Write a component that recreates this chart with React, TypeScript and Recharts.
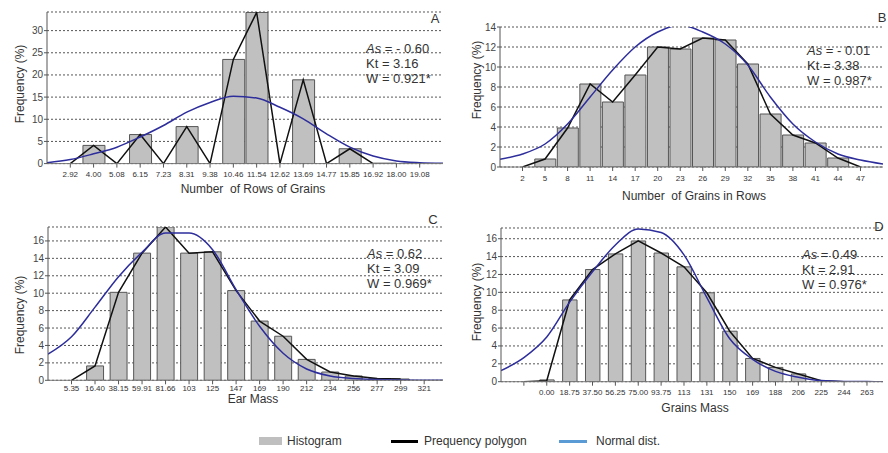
import { Bar, CartesianGrid, ComposedChart, Line, XAxis, YAxis } from "recharts";

// A - Number of Rows of Grains
const rowsLabels = ["2.92", "4.00", "5.08", "6.15", "7.23", "8.31", "9.38", "10.46", "11.54", "12.62", "13.69", "14.77", "15.85", "16.92", "18.00", "19.08"];
const rowsHist = [0, 4.1, 0, 6.55, 0, 8.35, 0, 23.5, 34.1, 0, 18.9, 0, 3.35, 0, 0, 0];
const rowsPoly = [0, 4.1, 0, 6.55, 0, 8.35, 0, 23.5, 34.1, 0, 18.9, 0, 3.35, 0, 0, null];
// normal curve: left edge, one value per label, right edge
const rowsNormal = [0.2, 0.9, 2.2, 3.7, 6.0, 8.6, 11.6, 13.8, 15.2, 14.8, 12.7, 10.1, 6.7, 3.7, 1.7, 0.6, 0.2, 0.05];

// B - Number of Grains in Rows
const grainsLabels = ["2", "5", "8", "11", "14", "17", "20", "23", "26", "29", "32", "35", "38", "41", "44", "47"];
const grainsHist = [0, 0.8, 3.9, 8.3, 6.5, 9.2, 12.0, 11.8, 12.9, 12.7, 10.3, 5.3, 3.2, 2.4, 0.9, 0];
const grainsPoly = [0, 0.8, 3.9, 8.3, 6.5, 9.2, 12.0, 11.8, 12.9, 12.7, 10.3, 5.3, 3.2, 2.4, 0.9, 0];
const grainsNormal = [0.77, 1.3, 2.3, 4.3, 7.0, 9.7, 12.0, 13.5, 14.2, 13.5, 12.3, 10.2, 7.0, 4.3, 2.5, 1.3, 0.7, 0.3];

// C - Ear Mass
const earLabels = ["5.35", "16.40", "38.15", "59.91", "81.66", "103", "125", "147", "169", "190", "212", "234", "256", "277", "299", "321"];
const earHist = [0, 1.65, 10.1, 14.6, 17.6, 14.6, 14.75, 10.3, 6.8, 5.06, 2.4, 0.95, 0.5, 0.2, 0.15, 0];
const earPoly = [0, 1.65, 10.1, 14.6, 17.6, 14.6, 14.75, 10.3, 6.8, 5.06, 2.4, 0.95, 0.5, 0.2, 0.15, null];
const earNormal = [3.0, 5.0, 8.4, 11.9, 14.7, 16.9, 16.9, 15.0, 10.4, 6.2, 3.1, 1.3, 0.5, 0.2, 0.08, 0.03, 0.01, 0];

// D - Grains Mass
const massLabels = ["", "0.00", "18.75", "37.50", "56.25", "75.00", "93.75", "113", "131", "150", "169", "188", "206", "225", "244", "263"];
const massHist = [0, 0.2, 9.15, 12.55, 14.3, 15.75, 14.4, 12.85, 9.95, 5.65, 2.6, 1.6, 0.87, 0, 0, 0];
const massPoly = [0, 0.1, 9.15, 12.55, 14.3, 15.75, 14.4, 12.85, 9.95, 5.65, 2.6, 1.6, 0.87, 0.1, 0, null];
const massNormal = [1.24, 2.7, 5.0, 8.9, 12.3, 15.3, 17.1, 16.7, 14.2, 9.4, 4.8, 2.5, 1.15, 0.5, 0.12, 0.03, 0.01, 0];

const FONT = "'Liberation Sans', Arial, sans-serif";
const BLUE = "#2d2d9c";

type Row = { x: number; hist?: number | null; poly?: number | null; normal?: number };

function buildRows(labels: string[], hist: number[], poly: (number | null)[], normal: number[], xMax: number) {
  const rows: Row[] = [{ x: -1, normal: normal[0] }];
  labels.forEach((_, i) => {
    rows.push({ x: i, hist: hist[i] > 0 ? hist[i] : null, poly: poly[i], normal: normal[i + 1] });
  });
  rows.push({ x: xMax, normal: normal[normal.length - 1] });
  return rows;
}

interface PanelProps {
  labels: string[];
  hist: number[];
  poly: (number | null)[];
  normal: number[];
  plotX: number;
  plotY: number;
  plotW: number;
  plotH: number;
  xMax: number;
  yMax: number;
  yTicks: number[];
  barSize: number;
  tickMargin: number;
}

const YW = 26;
const XH = 22;
const M = 4;

function Panel({ labels, hist, poly, normal, plotX, plotY, plotW, plotH, xMax, yMax, yTicks, barSize, tickMargin }: PanelProps) {
  const data = buildRows(labels, hist, poly, normal, xMax);
  const ticks = labels.map((_, i) => i);
  return (
    <div style={{ position: "absolute", left: plotX - YW - M, top: plotY - M }}>
      <ComposedChart
        width={plotW + YW + 2 * M}
        height={plotH + XH + 2 * M}
        data={data}
        margin={{ top: M, right: M, bottom: M, left: M }}
      >
        <CartesianGrid horizontal vertical={false} stroke="#555" strokeDasharray="2 2" />
        <XAxis
          dataKey="x"
          type="number"
          domain={[-1, xMax]}
          ticks={ticks}
          interval={0}
          tickFormatter={(v: number) => labels[v] ?? ""}
          height={XH}
          tickSize={4}
          tickMargin={tickMargin}
          axisLine={{ stroke: "#777" }}
          tickLine={{ stroke: "#555" }}
          tick={{ fontSize: 8, fill: "#333", fontFamily: FONT }}
          allowDataOverflow
        />
        <YAxis
          type="number"
          domain={[0, yMax]}
          ticks={yTicks}
          interval={0}
          width={YW}
          tickSize={3}
          tickMargin={1}
          axisLine={{ stroke: "#555" }}
          tickLine={{ stroke: "#555" }}
          tick={{ fontSize: 10, fill: "#444", fontFamily: FONT }}
          allowDataOverflow
        />
        <Bar dataKey="hist" fill="#c0c0c0" stroke="#555" strokeWidth={1} barSize={barSize} isAnimationActive={false} />
        <Line dataKey="poly" type="linear" stroke="#111" strokeWidth={1.5} dot={false} activeDot={false} isAnimationActive={false} />
        <Line dataKey="normal" type="monotone" stroke={BLUE} strokeWidth={1.5} dot={false} activeDot={false} isAnimationActive={false} />
      </ComposedChart>
    </div>
  );
}

function Txt({ x, y, children, size = 12, rotate = false }: { x: number; y: number; children: React.ReactNode; size?: number; rotate?: boolean }) {
  return (
    <div
      style={{
        position: "absolute",
        left: x,
        top: y,
        transform: `translate(-50%, -50%)${rotate ? " rotate(-90deg)" : ""}`,
        whiteSpace: "pre",
        fontSize: size,
        fontFamily: FONT,
        color: "#333",
      }}
    >
      {children}
    </div>
  );
}

function Stats({ x, y, as, kt, w }: { x: number; y: number; as: string; kt: string; w: string }) {
  return (
    <div style={{ position: "absolute", left: x, top: y - 7.5, fontSize: 13, lineHeight: "15px", fontFamily: FONT, color: "#333", whiteSpace: "pre" }}>
      <div>
        <i>As</i> = {as}
      </div>
      <div>Kt = {kt}</div>
      <div>W = {w}*</div>
    </div>
  );
}

export default function App() {
  return (
    <div style={{ position: "absolute", left: 0, top: 0, width: 888, height: 453, background: "#fff", overflow: "hidden" }}>
      <Panel labels={rowsLabels} hist={rowsHist} poly={rowsPoly} normal={rowsNormal}
        plotX={47} plotY={11.7} plotW={396} plotH={151.6} xMax={16} yMax={34.2}
        yTicks={[0, 5, 10, 15, 20, 25, 30]} barSize={22} tickMargin={4} />
      <Panel labels={grainsLabels} hist={grainsHist} poly={grainsPoly} normal={grainsNormal}
        plotX={500} plotY={26.7} plotW={383} plotH={140} xMax={16} yMax={14}
        yTicks={[0, 2, 4, 6, 8, 10, 12, 14]} barSize={21} tickMargin={4} />
      <Panel labels={earLabels} hist={earHist} poly={earPoly} normal={earNormal}
        plotX={48} plotY={226.7} plotW={395} plotH={153.3} xMax={15.8} yMax={17.6}
        yTicks={[0, 2, 4, 6, 8, 10, 12, 14, 16]} barSize={22} tickMargin={1.5} />
      <Panel labels={massLabels} hist={massHist} poly={massPoly} normal={massNormal}
        plotX={501} plotY={228.3} plotW={382} plotH={153.7} xMax={15.7} yMax={17.2}
        yTicks={[0, 2, 4, 6, 8, 10, 12, 14, 16]} barSize={21.5} tickMargin={4} />

      <Txt x={20} y={84} rotate>Frequency (%)</Txt>
      <Txt x={477} y={80} rotate>Frequency (%)</Txt>
      <Txt x={20} y={315} rotate>Frequency (%)</Txt>
      <Txt x={477} y={302} rotate>Frequency (%)</Txt>

      <Txt x={253} y={188.7}>Number  of Rows of Grains</Txt>
      <Txt x={694} y={196}>Number  of Grains in Rows</Txt>
      <Txt x={253} y={399.3}>Ear Mass</Txt>
      <Txt x={695} y={407.7}>Grains Mass</Txt>

      <Txt x={435} y={17.7} size={13}>A</Txt>
      <Txt x={882} y={17.3} size={13}>B</Txt>
      <Txt x={433} y={219} size={13}>C</Txt>
      <Txt x={879} y={225.7} size={13}>D</Txt>

      <Stats x={366} y={48.3} as="- 0.60" kt="3.16" w="0.921" />
      <Stats x={807} y={50} as="- 0.01" kt="3.38" w="0.987" />
      <Stats x={367} y={253.3} as="0.62" kt="3.09" w="0.969" />
      <Stats x={802} y={254.3} as="0.49" kt="2.91" w="0.976" />

      <div style={{ position: "absolute", left: 259, top: 437, width: 23, height: 8, background: "#bfbfbf" }} />
      <div style={{ position: "absolute", left: 287, top: 441, transform: "translateY(-50%)", fontSize: 12, fontFamily: FONT, color: "#333" }}>Histogram</div>
      <div style={{ position: "absolute", left: 391, top: 439.5, width: 27, height: 3, background: "#000" }} />
      <div style={{ position: "absolute", left: 424, top: 441, transform: "translateY(-50%)", fontSize: 12, fontFamily: FONT, color: "#333" }}>Prequency polygon</div>
      <div style={{ position: "absolute", left: 559, top: 439.5, width: 28, height: 3, background: "#5b9bd5" }} />
      <div style={{ position: "absolute", left: 596, top: 441, transform: "translateY(-50%)", fontSize: 12, fontFamily: FONT, color: "#333" }}>Normal dist.</div>
    </div>
  );
}
